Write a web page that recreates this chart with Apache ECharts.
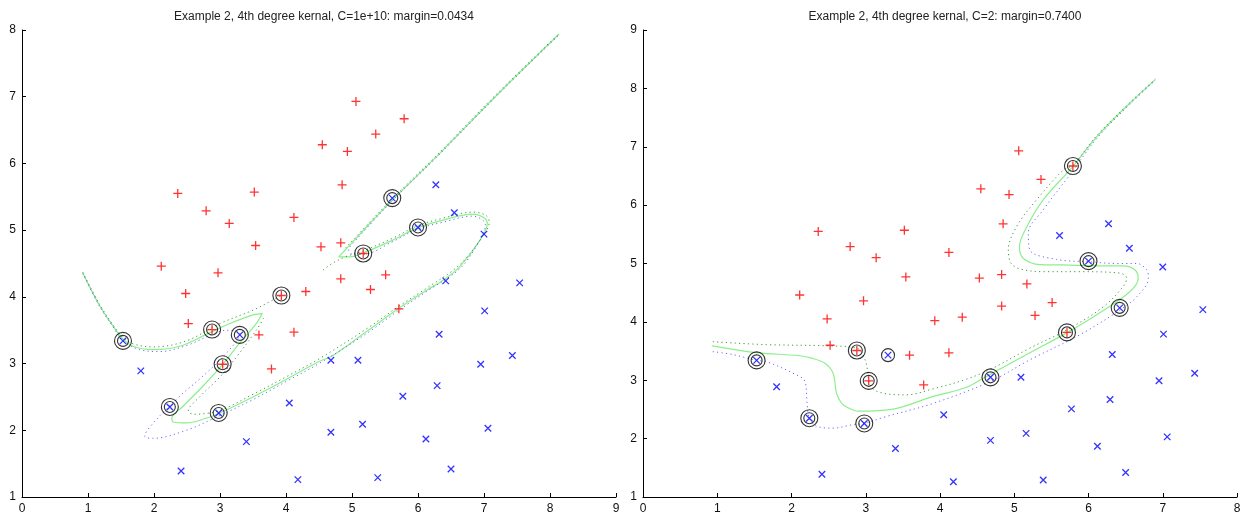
<!DOCTYPE html>
<html><head><meta charset="utf-8">
<script src="https://cdn.jsdelivr.net/npm/echarts@6/dist/echarts.min.js"></script>
<style>html,body{margin:0;padding:0;background:#fff}#c{width:1249px;height:517px}</style>
</head><body><div id="c"></div>
<script>
// ---- data ----
const titles = ['Example 2, 4th degree kernal, C=1e+10: margin=0.0434', 'Example 2, 4th degree kernal, C=2: margin=0.7400'];
const posPoints = [[2.36,5.55],[2.79,5.29],[3.14,5.10],[3.52,5.57],[3.54,4.77],[4.12,5.19],[2.11,4.46],[4.55,6.28],[4.53,4.75],[5.06,6.93],[5.79,6.67],[5.36,6.44],[4.93,6.18],[4.85,5.68],[4.83,4.81],[5.17,4.65],[2.97,4.36],[2.48,4.05],[3.93,4.02],[4.30,4.08],[2.52,3.60],[2.88,3.51],[3.59,3.43],[4.12,3.47],[3.78,2.92],[3.04,2.99],[4.83,4.27],[5.51,4.33],[5.28,4.11],[5.71,3.82]];
const negPoints = [[5.61,5.48],[6.00,5.04],[6.27,5.68],[6.55,5.26],[7.00,4.94],[3.30,3.43],[1.53,3.34],[1.80,2.89],[2.24,2.35],[2.98,2.26],[4.05,2.41],[3.40,1.83],[2.41,1.39],[4.18,1.26],[6.42,4.24],[7.54,4.21],[7.01,3.79],[6.32,3.44],[4.68,3.05],[5.09,3.05],[6.95,2.99],[7.43,3.12],[6.29,2.67],[5.77,2.51],[4.68,1.97],[5.16,2.09],[7.06,2.03],[6.12,1.87],[6.50,1.42],[5.39,1.29]];
const svLeft = [[1.53,3.34],[2.88,3.51],[3.30,3.43],[3.93,4.02],[3.04,2.99],[2.24,2.35],[2.98,2.26],[5.61,5.48],[6.00,5.04],[5.17,4.65]];
const svRight = [[1.53,3.34],[2.88,3.51],[3.04,2.99],[2.24,2.35],[2.98,2.26],[4.68,3.05],[5.71,3.82],[6.42,4.24],[6.00,5.04],[5.79,6.67]];
const svRightSingle = [[3.30,3.43]];

const leftBoundary = [[0.92,4.36],[1.05,4.1],[1.18,3.86],[1.38,3.56],[1.53,3.37],[1.68,3.26],[1.99,3.21],[2.39,3.26],[2.84,3.46],[3.15,3.6],[3.5,3.73],[3.64,3.75],[3.55,3.6],[3.3,3.31],[3.05,3.0],[2.74,2.66],[2.44,2.36],[2.27,2.18],[2.3,2.12],[2.49,2.11],[2.79,2.18],[3.0,2.26],[3.5,2.5],[4.0,2.76],[4.5,3.03],[4.71,3.12],[5.22,3.48],[5.71,3.83],[6.13,4.1],[6.38,4.25],[6.63,4.45],[6.94,4.85],[7.05,5.1],[7.01,5.18],[6.83,5.24],[6.38,5.15],[5.98,5.03],[5.62,4.85],[5.17,4.66],[4.97,4.6],[4.8,4.6],[4.97,4.78],[5.27,5.1],[5.61,5.45],[6.3,6.12],[7.2,7.03],[8.14,7.94]];
const leftPos1 = [[0.92,4.37],[1.18,3.88],[1.38,3.58],[1.53,3.39],[1.7,3.29],[2.0,3.25],[2.49,3.34],[3.0,3.6],[3.5,3.8],[3.7,3.9],[3.93,4.02]];
const leftPos2 = [[3.66,3.68],[3.55,3.5],[3.25,3.1],[3.0,2.8],[2.69,2.5],[2.52,2.29],[2.6,2.24],[3.0,2.3],[3.5,2.54],[4.0,2.8],[4.5,3.07],[5.22,3.52],[5.71,3.86],[6.13,4.13],[6.63,4.48],[6.96,4.88],[7.08,5.12],[7.03,5.22],[6.83,5.27],[6.38,5.18],[5.98,5.06],[5.62,4.88],[5.17,4.69],[4.9,4.6],[4.7,4.5],[4.56,4.4]];
const leftPos3 = [[4.9,4.73],[5.27,5.12],[5.61,5.47],[6.3,6.14],[7.2,7.05],[8.14,7.95]];
const leftNeg = [[0.92,4.35],[1.18,3.85],[1.38,3.55],[1.53,3.34],[1.78,3.21],[2.09,3.18],[2.49,3.27],[2.89,3.44],[3.1,3.5],[3.3,3.45],[3.1,3.16],[2.74,2.81],[2.39,2.51],[1.99,2.11],[1.86,1.91],[1.99,1.88],[2.49,2.0],[2.95,2.2],[3.5,2.46],[4.0,2.73],[4.5,3.0],[5.22,3.45],[5.71,3.8],[6.13,4.08],[6.63,4.42],[6.92,4.82],[7.02,5.08],[6.98,5.15],[6.83,5.21],[6.38,5.12],[5.98,5.01],[5.62,4.83],[5.17,4.64],[5.0,4.64],[4.95,4.7],[5.05,4.84],[5.27,5.08],[5.61,5.44],[6.3,6.11],[7.2,7.02],[8.14,7.93]];

const rightBoundary = [[0.93,3.59],[1.21,3.53],[1.55,3.47],[2.11,3.42],[2.27,3.38],[2.45,3.29],[2.56,3.12],[2.606,2.78],[2.674,2.61],[2.76,2.53],[2.9,2.47],[3.35,2.5],[3.9,2.72],[4.36,2.88],[4.63,3.07],[5.21,3.47],[5.72,3.82],[6.11,4.12],[6.56,4.52],[6.67,4.75],[6.627,4.89],[6.47,4.96],[6.11,4.96],[5.66,4.975],[5.35,4.98],[5.12,5.09],[5.07,5.29],[5.17,5.63],[5.39,6.09],[5.795,6.67],[6.11,7.17],[6.56,7.75],[6.9,8.15]];
const rightPos = [[0.94,3.66],[1.66,3.61],[2.47,3.59],[2.88,3.55],[2.99,3.35],[3.03,3.12],[3.04,2.99],[3.146,2.81],[3.55,2.75],[3.9,2.85],[4.36,3.02],[4.7,3.2],[5.21,3.55],[5.72,3.87],[6.2,4.26],[6.47,4.61],[6.515,4.75],[6.424,4.835],[5.885,4.86],[5.39,4.86],[5.1,4.9],[4.96,5.0],[4.92,5.23],[5.03,5.63],[5.30,6.09],[5.66,6.6],[5.795,6.69],[6.11,7.19],[6.56,7.76],[6.9,8.16]];
const rightNeg = [[0.94,3.49],[1.21,3.44],[1.53,3.34],[1.66,3.32],[2.02,3.12],[2.18,2.98],[2.21,2.61],[2.24,2.35],[2.34,2.21],[2.56,2.18],[2.83,2.24],[2.98,2.26],[3.28,2.38],[3.9,2.6],[4.68,2.98],[5.21,3.35],[5.885,3.78],[6.42,4.2],[6.65,4.43],[6.806,4.75],[6.785,4.89],[6.65,5.0],[6.38,5.0],[6.0,5.03],[5.57,5.07],[5.21,5.23],[5.19,5.52],[5.39,5.92],[5.75,6.52],[6.11,7.14],[6.56,7.73],[6.9,8.14]];

// ---- style ----
const FONT = 'Liberation Sans, Arial, sans-serif';
const PLUS = 'path://M0,5L10,5M5,0L5,10';
const CROSS = 'path://M0,0L10,10M10,0L0,10';
const C_BOUND = '#8cef8c', C_POS = '#3f9a3f', C_NEG = '#6a6aff';

function axisCommon(idx, min, max) {
  return {
    type: 'value', gridIndex: idx, min: min, max: max, interval: 1,
    axisLine: { show: true, onZero: false, lineStyle: { color: '#000', width: 1 } },
    axisTick: { show: true, inside: true, length: 4, lineStyle: { color: '#000' } },
    axisLabel: { color: '#111', fontSize: 12, fontFamily: FONT, margin: 6 },
    splitLine: { show: false }
  };
}
function line(idx, data, color, dotted, w) {
  return { type: 'line', xAxisIndex: idx, yAxisIndex: idx, data: data, showSymbol: false, smooth: 0.35,
    silent: true, z: 2, lineStyle: { color: color, width: w || 1, type: dotted ? [1.2, 3.2] : 'solid' } };
}
function pts(idx, data, sym, color, size) {
  return { type: 'scatter', xAxisIndex: idx, yAxisIndex: idx, data: data, symbol: sym, symbolSize: size,
    z: 3, itemStyle: { color: 'rgba(0,0,0,0)', borderColor: color, borderWidth: 1.3 } };
}
function circ(idx, data, size) {
  return { type: 'scatter', xAxisIndex: idx, yAxisIndex: idx, data: data, symbol: 'circle', symbolSize: size,
    z: 4, itemStyle: { color: 'rgba(0,0,0,0)', borderColor: '#000', borderWidth: 1.1 } };
}

const option = {
  animation: false,
  backgroundColor: '#fff',
  title: [
    { text: titles[0], left: 319, top: 6, textAlign: 'center', textStyle: { fontSize: 12, fontWeight: 'normal', color: '#222', fontFamily: FONT } },
    { text: titles[1], left: 940, top: 6, textAlign: 'center', textStyle: { fontSize: 12, fontWeight: 'normal', color: '#222', fontFamily: FONT } }
  ],
  grid: [
    { left: 22, top: 30, width: 594, height: 467 },
    { left: 643, top: 30, width: 594, height: 467 }
  ],
  xAxis: [axisCommon(0, 0, 9), axisCommon(1, 0, 8)],
  yAxis: [axisCommon(0, 1, 8), axisCommon(1, 1, 9)],
  series: [
    line(0, leftBoundary, C_BOUND, false, 1.2),
    line(0, leftPos1, C_POS, true), line(0, leftPos2, C_POS, true), line(0, leftPos3, C_POS, true),
    line(0, leftNeg, C_NEG, true),
    pts(0, posPoints, PLUS, '#ff0000', 9), pts(0, negPoints, CROSS, '#0000ff', 6.5),
    circ(0, svLeft, 17), circ(0, svLeft, 11),
    line(1, rightBoundary, C_BOUND, false, 1.2),
    line(1, rightPos, C_POS, true), line(1, rightNeg, C_NEG, true),
    pts(1, posPoints, PLUS, '#ff0000', 9), pts(1, negPoints, CROSS, '#0000ff', 6.5),
    circ(1, svRight, 17), circ(1, svRight, 11), circ(1, svRightSingle, 13)
  ]
};
const chart = echarts.init(document.getElementById('c'), null, { renderer: 'canvas' });
chart.setOption(option);
</script></body></html>
